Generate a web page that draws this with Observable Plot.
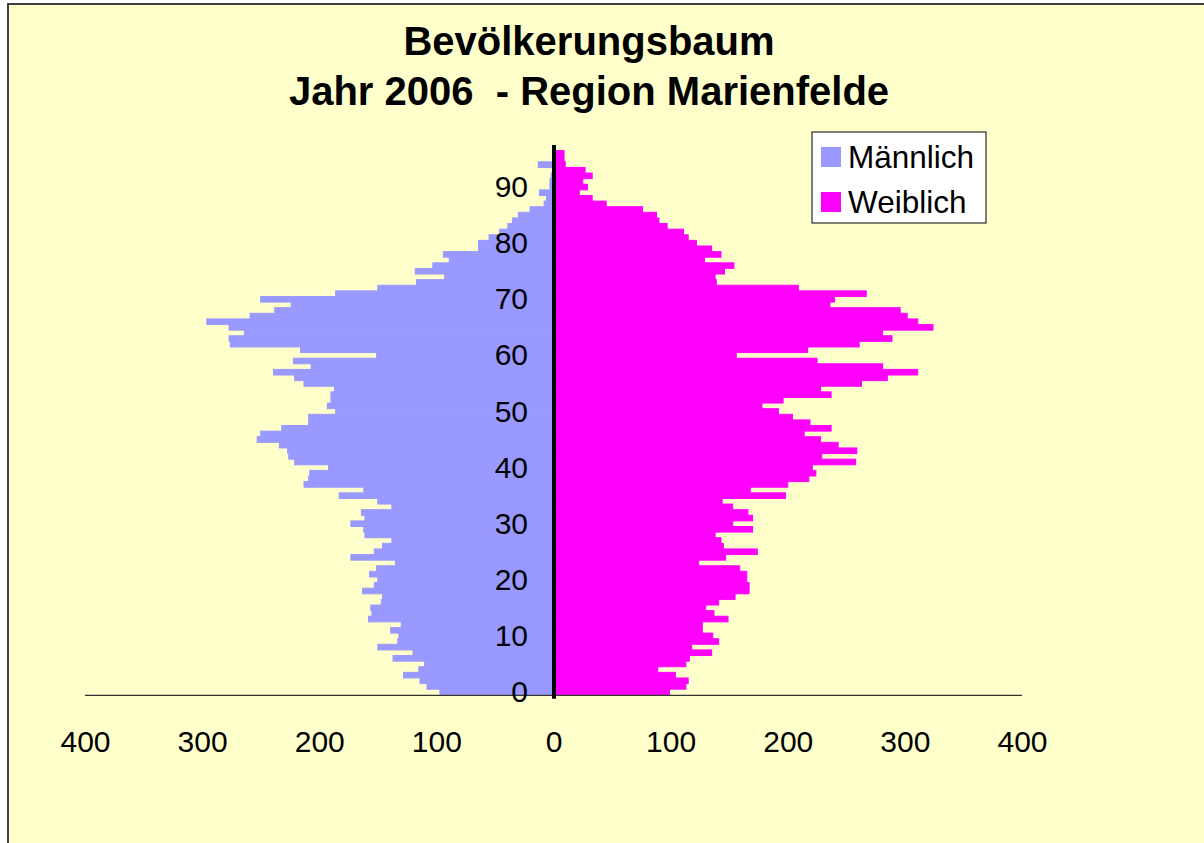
<!DOCTYPE html>
<html>
<head>
<meta charset="utf-8">
<script src="https://cdn.jsdelivr.net/npm/d3@7"></script>
<script src="https://cdn.jsdelivr.net/npm/@observablehq/plot@0.6"></script>
<style>
  html, body { margin: 0; padding: 0; background: white; }
  #chart { width: 1204px; height: 843px; }
</style>
</head>
<body>
<div id="chart"></div>
<script>
// ---- data (ages 0..97) ----
const ages = d3.range(0, 98);
const male = [
  97, 108, 114, 128, 115, 110, 137, 120, 150, 133,   // 0-9
  132, 139, 130, 158, 155, 156, 147, 146, 163, 153,  // 10-19
  150, 157, 151, 135, 173, 153, 146, 138, 161, 162,  // 20-29
  173, 161, 164, 138, 150, 183, 162, 213, 209, 208,  // 30-39
  192, 221, 226, 227, 234, 253, 250, 232, 209, 209,  // 40-49
  186, 193, 190, 190, 187, 213, 221, 239, 207, 222,  // 50-59
  151, 216, 276, 277, 264, 277, 296, 259, 238, 224,  // 60-69
  250, 186, 150, 117, 93, 118, 103, 89, 94, 64,      // 70-79
  64, 55, 46, 39, 35, 30, 20, 8, 6, 12,              // 80-89
  3, 3, 2, 1, 13, 0, 0, 0                            // 90-97
];
const female = [
  99, 113, 115, 104, 89, 113, 116, 135, 118, 141,    // 0-9
  136, 127, 127, 149, 137, 130, 141, 155, 167, 167,  // 10-19
  165, 165, 159, 124, 147, 174, 145, 143, 138, 170,  // 20-29
  153, 170, 166, 153, 144, 198, 168, 200, 218, 224,  // 30-39
  221, 258, 229, 259, 243, 228, 214, 237, 219, 204,  // 40-49
  192, 178, 196, 237, 228, 263, 285, 311, 281, 225,  // 50-59
  156, 217, 261, 289, 281, 324, 311, 302, 296, 236,  // 60-69
  240, 267, 209, 139, 138, 146, 154, 129, 143, 135,  // 70-79
  122, 115, 111, 97, 90, 88, 76, 45, 33, 22,         // 80-89
  29, 25, 33, 27, 10, 9, 9, 0                        // 90-97
];
const yTicks = [0, 10, 20, 30, 40, 50, 60, 70, 80, 90];
const xTicks = [-400, -300, -200, -100, 0, 100, 200, 300, 400];
const titleLines = ["Bevölkerungsbaum", "Jahr 2006  - Region Marienfelde"];
const seriesNames = ["Männlich", "Weiblich"];
const colors = ["#9999FF", "#FF00FF"];

const mRows = ages.map((a, i) => ({age: a, v: male[i]})).filter(d => d.v > 0);
const fRows = ages.map((a, i) => ({age: a, v: female[i]})).filter(d => d.v > 0);

const font = "'Liberation Sans', Arial, sans-serif";

const plot = Plot.plot({
  width: 1204,
  height: 843,
  marginLeft: 85,
  marginRight: 182,
  marginTop: 145,
  marginBottom: 148.2,
  style: {background: "transparent", fontFamily: font, overflow: "hidden"},
  x: {domain: [-400, 400], axis: null},
  y: {domain: [0, 98], axis: null},
  marks: [
    Plot.rect(mRows, {x1: 0, x2: d => -d.v, y1: d => d.age, y2: d => d.age + 1,
      fill: colors[0], stroke: colors[0], strokeWidth: 1}),
    Plot.rect(fRows, {x1: 0, x2: d => d.v, y1: d => d.age, y2: d => d.age + 1,
      fill: colors[1], stroke: colors[1], strokeWidth: 1}),
    Plot.ruleY([0], {stroke: "#333", strokeWidth: 1.3}),
    Plot.ruleX([0], {stroke: "black", strokeWidth: 4, insetBottom: -4}),
    Plot.text(yTicks, {x: 0, y: d => d + 0.5, text: d => String(d), dx: -26,
      textAnchor: "end", lineAnchor: "middle", fontSize: 30, fill: "black"}),
    Plot.text(xTicks, {x: d => d, frameAnchor: "bottom", lineAnchor: "middle", dy: 47,
      text: d => String(Math.abs(d)), fontSize: 30, fill: "black"}),
    Plot.text([titleLines[0]], {frameAnchor: "top", lineAnchor: "middle", dx: 35, dy: -103,
      text: d => d, fontSize: 40, fontWeight: "bold", fill: "black"}),
    Plot.text([titleLines[1]], {frameAnchor: "top", lineAnchor: "middle", dx: 35, dy: -53,
      text: d => d, fontSize: 40, fontWeight: "bold", fill: "black"})
  ]
});

const svg = d3.select(plot);
// chart area background + border (extends beyond the right/bottom edges)
svg.insert("rect", ":first-child")
  .attr("x", 8).attr("y", 4).attr("width", 1300).attr("height", 900)
  .attr("fill", "#FFFFCC").attr("stroke", "#404040").attr("stroke-width", 2);
svg.insert("rect", ":first-child")
  .attr("x", 0).attr("y", 0).attr("width", 1204).attr("height", 843)
  .attr("fill", "white");

// legend
const lg = svg.append("g").attr("font-family", font).attr("text-anchor", "start");
lg.append("rect").attr("x", 812).attr("y", 132).attr("width", 174).attr("height", 91)
  .attr("fill", "white").attr("stroke", "black").attr("stroke-width", 1);
seriesNames.forEach((name, i) => {
  const cy = 157 + i * 45;
  lg.append("rect").attr("x", 821).attr("y", cy - 10).attr("width", 20).attr("height", 20)
    .attr("fill", colors[i]);
  lg.append("text").attr("x", 848).attr("y", cy).attr("dy", "0.35em")
    .attr("text-anchor", "start")
    .attr("font-size", 31.5).attr("fill", "black").text(name);
});

svg.selectAll("text").style("white-space", "pre");
document.getElementById("chart").appendChild(plot);
</script>
</body>
</html>
